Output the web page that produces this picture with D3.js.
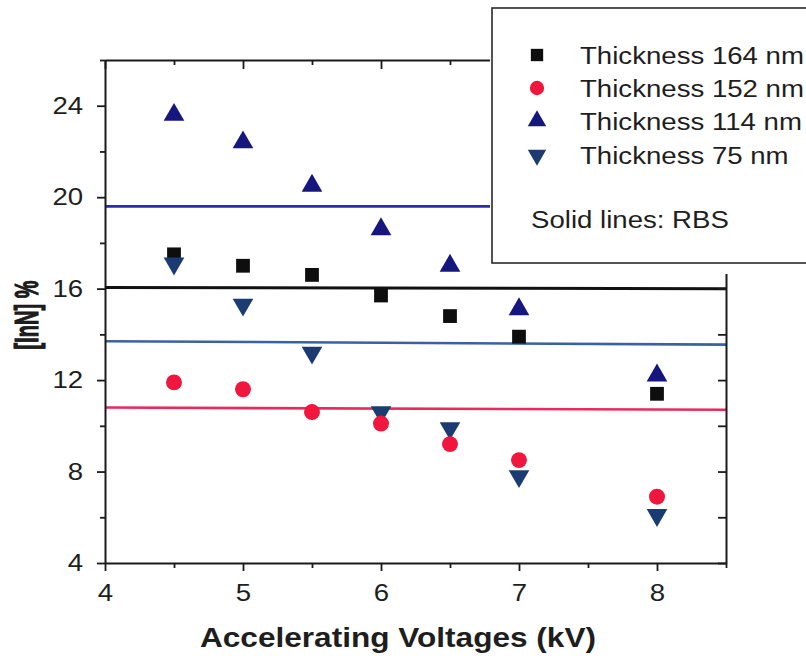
<!DOCTYPE html>
<html>
<head>
<meta charset="utf-8">
<script src="https://cdn.jsdelivr.net/npm/d3@7"></script>
<style>
  html, body { margin: 0; padding: 0; background: #ffffff; }
  svg { display: block; }
  text { font-family: "Liberation Sans", Arial, sans-serif; fill: #1e1e1e; }
</style>
</head>
<body>
<svg id="chart" width="806" height="662"></svg>
<script>
// ---------------- data ----------------
const voltages = [4.5, 5, 5.5, 6, 6.5, 7, 8];
const inn164 = [17.5, 17.0, 16.6, 15.7, 14.8, 13.9, 11.4];
const inn152 = [11.9, 11.6, 10.6, 10.1, 9.2, 8.5, 6.9];
const inn114 = [23.6, 22.4, 20.5, 18.6, 17.0, 15.1, 12.2];
const inn75  = [17.1, 15.3, 13.2, 10.6, 9.9, 7.8, 6.1];

// RBS reference lines (value at left end, value at right end)
const rbsX   = [4, 8.5];
const rbs164 = [16.05, 16.0];
const rbs152 = [10.8, 10.7];
const rbs114 = [19.6, 19.6];
const rbs75  = [13.7, 13.55];

const xTicks = [4, 5, 6, 7, 8];
const yTicks = [4, 8, 12, 16, 20, 24];
const seriesNames = ["Thickness 164 nm", "Thickness 152 nm", "Thickness 114 nm", "Thickness 75 nm"];
const legendNote = "Solid lines: RBS";
const xTitle = "Accelerating Voltages (kV)";
const yTitle = "[InN] %";

// ---------------- layout ----------------
const svg = d3.select("#chart");
const pLeft = 105, pRight = 726, pTop = 60, pBottom = 563;
const x = d3.scaleLinear().domain([4, 8.5]).range([pLeft, pRight]);
const y = d3.scaleLinear().domain([4, 26]).range([pBottom, pTop]);
const SX = 1.15; // horizontal stretch of text in reference

const styles = [
  { values: inn164, rbs: rbs164, color: "#0e0e0e", line: "#111111", type: d3.symbolSquare, size: 190, rot: 0 },
  { values: inn152, rbs: rbs152, color: "#f0163e", line: "#ea2a5c", type: d3.symbolCircle, size: 200, rot: 0 },
  { values: inn114, rbs: rbs114, color: "#16167f", line: "#2b2bb0", type: d3.symbolTriangle, size: 185, rot: 0 },
  { values: inn75,  rbs: rbs75,  color: "#1b3c72", line: "#3862a2", type: d3.symbolTriangle, size: 185, rot: 180 }
];

// ---------------- RBS lines ----------------
const lineGen = d3.line().x(d => x(d[0])).y(d => y(d[1]));
styles.forEach(s => {
  svg.append("path")
    .attr("d", lineGen(rbsX.map((v, i) => [v, s.rbs[i]])))
    .attr("fill", "none")
    .attr("stroke", s.line)
    .attr("stroke-width", s.line === "#111111" ? 3 : 2.6);
});

// ---------------- axes ----------------
function styleAxis(g) {
  g.select(".domain").attr("stroke", "#1a1a1a").attr("stroke-width", 2);
  g.selectAll(".tick line").attr("stroke", "#1a1a1a").attr("stroke-width", 1.8);
}
function styleMinor(g) {
  g.select(".domain").remove();
  g.selectAll(".tick line").attr("stroke", "#1a1a1a").attr("stroke-width", 1.8);
}
const xMinor = d3.range(4, 8.51, 0.5).filter(v => !xTicks.includes(v));
const yMinor = d3.range(4, 26.01, 2).filter(v => !yTicks.includes(v));

// bottom
const gx = svg.append("g").attr("transform", `translate(0,${pBottom})`)
  .call(d3.axisBottom(x).tickValues(xTicks).tickFormat(d3.format("d")).tickSizeInner(8).tickSizeOuter(0).tickPadding(13));
styleAxis(gx);
gx.selectAll(".tick text").attr("font-size", 24).attr("font-family", "Liberation Sans, Arial, sans-serif")
  .attr("fill", "#1e1e1e").attr("transform", `scale(${SX},1)`);
svg.append("g").attr("transform", `translate(0,${pBottom})`)
  .call(d3.axisBottom(x).tickValues(xMinor).tickFormat("").tickSizeInner(5).tickSizeOuter(0))
  .call(styleMinor);

// left
const gy = svg.append("g").attr("transform", `translate(${pLeft},0)`)
  .call(d3.axisLeft(y).tickValues(yTicks).tickFormat(d3.format("d")).tickSizeInner(8).tickSizeOuter(0).tickPadding(11));
styleAxis(gy);
gy.selectAll(".tick text").attr("font-size", 24).attr("font-family", "Liberation Sans, Arial, sans-serif")
  .attr("fill", "#1e1e1e").attr("transform", `scale(${SX},1)`);
svg.append("g").attr("transform", `translate(${pLeft},0)`)
  .call(d3.axisLeft(y).tickValues(yMinor).tickFormat("").tickSizeInner(5).tickSizeOuter(0))
  .call(styleMinor);

// top (ticks inward)
const gt = svg.append("g").attr("transform", `translate(0,${pTop})`)
  .call(d3.axisTop(x).tickValues(xTicks).tickFormat("").tickSizeInner(-9).tickSizeOuter(0));
styleAxis(gt);
svg.append("g").attr("transform", `translate(0,${pTop})`)
  .call(d3.axisTop(x).tickValues(xMinor).tickFormat("").tickSizeInner(-5).tickSizeOuter(0))
  .call(styleMinor);

// right (ticks inward)
const gr = svg.append("g").attr("transform", `translate(${pRight},0)`)
  .call(d3.axisRight(y).tickValues(yTicks).tickFormat("").tickSizeInner(-8).tickSizeOuter(0));
styleAxis(gr);
svg.append("g").attr("transform", `translate(${pRight},0)`)
  .call(d3.axisRight(y).tickValues(yMinor).tickFormat("").tickSizeInner(-8).tickSizeOuter(0))
  .call(styleMinor);

// ---------------- markers ----------------
const drawOrder = [0, 2, 3, 1];
drawOrder.forEach(i => {
  const s = styles[i];
  svg.append("g").selectAll("path")
    .data(voltages.map((v, k) => [v, s.values[k]]))
    .join("path")
    .attr("d", d3.symbol().type(s.type).size(s.size))
    .attr("transform", d => `translate(${x(d[0])},${y(d[1])}) rotate(${s.rot})`)
    .attr("fill", s.color);
});

// ---------------- legend ----------------
svg.append("rect").attr("x", 490).attr("y", 0).attr("width", 330).attr("height", 274).attr("fill", "#ffffff");
svg.append("rect").attr("x", 492).attr("y", 8).attr("width", 330).attr("height", 255)
  .attr("fill", "#ffffff").attr("stroke", "#2a2a2a").attr("stroke-width", 1.6);
const legY = [55, 88, 121, 155];
seriesNames.forEach((name, i) => {
  const s = styles[i];
  svg.append("path")
    .attr("d", d3.symbol().type(s.type).size(s.size * 0.8))
    .attr("transform", `translate(537,${legY[i]}) rotate(${s.rot})`)
    .attr("fill", s.color);
  svg.append("text")
    .attr("transform", `translate(580,${legY[i] + 8.5}) scale(${SX},1)`)
    .attr("font-size", 24)
    .text(name);
});
svg.append("text")
  .attr("transform", `translate(531,228) scale(${SX},1)`)
  .attr("font-size", 24)
  .text(legendNote);

// ---------------- axis titles ----------------
svg.append("text")
  .attr("transform", `translate(398,647) scale(1.17,1)`)
  .attr("text-anchor", "middle")
  .attr("font-size", 27)
  .attr("font-weight", "bold")
  .attr("fill", "#111")
  .text(xTitle);

svg.append("text")
  .attr("transform", `translate(38,315) scale(1.7,1) rotate(-90)`)
  .attr("text-anchor", "middle")
  .attr("font-size", 20)
  .attr("font-weight", "bold")
  .attr("fill", "#111")
  .attr("stroke", "#111")
  .attr("stroke-width", 0.6)
  .text(yTitle);
</script>
</body>
</html>
